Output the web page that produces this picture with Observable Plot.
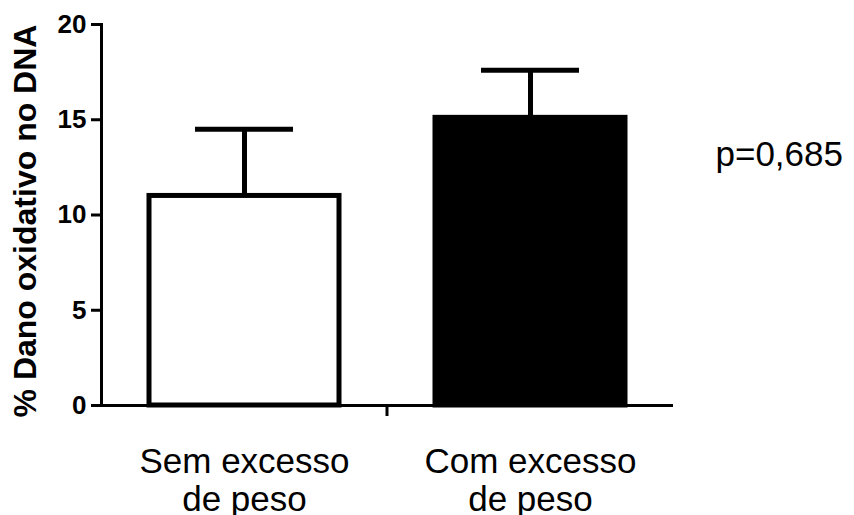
<!DOCTYPE html>
<html>
<head>
<meta charset="utf-8">
<script src="https://cdn.jsdelivr.net/npm/d3@7"></script>
<script src="https://cdn.jsdelivr.net/npm/@observablehq/plot@0.6"></script>
<style>
  html, body { margin: 0; padding: 0; background: #fff; }
  #chart { width: 854px; height: 515px; }
</style>
</head>
<body>
<div id="chart"></div>
<script>
// Data
const categories = ["Sem excesso\nde peso", "Com excesso\nde peso"];
const means = [11.0, 15.1];
const errors = [3.5, 2.5];
const fills = ["white", "black"];
const yTicks = [0, 5, 10, 15, 20];
const yLabel = "% Dano oxidativo no DNA";
const pText = "p=0,685";

const data = categories.map((c, i) => ({cat: c, mean: means[i], err: errors[i], top: means[i] + errors[i], fill: fills[i]}));

const plot = Plot.plot({
  width: 854,
  height: 515,
  marginLeft: 101,
  marginRight: 181,
  marginTop: 24,
  marginBottom: 110,
  style: {fontFamily: "'Liberation Sans', Arial, sans-serif", background: "white", color: "black", overflow: "visible"},
  x: {type: "band", domain: categories, paddingInner: 0.336, paddingOuter: 0.168, align: 0.5},
  y: {domain: [0, 20]},
  marks: [
    Plot.ruleX(data, {x: "cat", y1: "mean", y2: "top", stroke: "black", strokeWidth: 5}),
    Plot.tickY(data, {x: "cat", y: "top", stroke: "black", strokeWidth: 5, insetLeft: 46, insetRight: 46}),
    Plot.barY(data, {x: "cat", y: "mean", fill: d => d.fill, stroke: "black", strokeWidth: 5}),
    Plot.frame({anchor: "left", stroke: "black", strokeWidth: 3}),
    Plot.ruleY([0], {stroke: "black", strokeWidth: 3}),
    Plot.axisY({
      ticks: yTicks, tickSize: 10, tickPadding: 5, strokeWidth: 3,
      fontSize: 26, fontWeight: "bold",
      label: yLabel, labelAnchor: "center", labelArrow: "none", labelOffset: 88
    }),
    Plot.axisX({
      tickSize: 0, tickPadding: 40, fontSize: 35, lineHeight: 1.1, label: null
    }),
    Plot.text([pText], {frameAnchor: "right", text: d => d, textAnchor: "start", dx: 42, dy: -60, fontSize: 35, fill: "black"})
  ]
});

const svg = d3.select(plot);
// y tick labels: bold, larger
svg.selectAll("g[aria-label='y-axis tick label']").attr("font-size", 26).attr("font-weight", "bold");
svg.selectAll("g[aria-label='y-axis tick label'] text").attr("font-size", 26).attr("font-weight", "bold");
// y-axis label
svg.selectAll("g[aria-label='y-axis label'] text").attr("font-size", 32).attr("font-weight", "bold");
svg.selectAll("g[aria-label='y-axis label']").attr("transform", function() {
  const t = d3.select(this).attr("transform") || "";
  return t + " translate(0,6)";
});

// tick between the two groups on the x axis
const xs = plot.scale("x");
const ys = plot.scale("y");
const mid = (xs.apply(categories[0]) + xs.bandwidth + xs.apply(categories[1])) / 2;
const y0 = ys.apply(0);
svg.append("line")
  .attr("x1", mid).attr("x2", mid)
  .attr("y1", y0).attr("y2", y0 + 11)
  .attr("stroke", "black").attr("stroke-width", 3);

document.getElementById("chart").appendChild(plot);
</script>
</body>
</html>
